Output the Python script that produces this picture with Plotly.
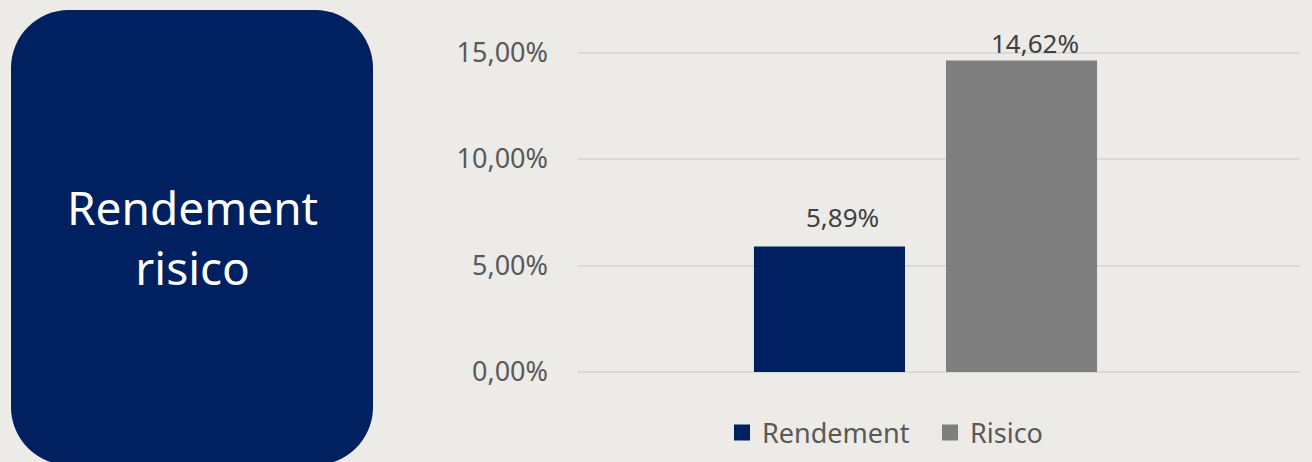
import plotly.graph_objects as go

# ---------------- data ----------------
categories = ["Rendement", "Risico"]
values = [0.0589, 0.1462]
colors = ["#00205F", "#7F7F7F"]
tick_values = [0.0, 0.05, 0.10, 0.15]
box_lines = ["Rendement", "risico"]

# ---------------- layout geometry ----------------
W, H = 1312, 462
PL, PR, PT, PB = 578, 1300, 50, 374   # plot area in px
ZERO_PX = 372                          # pixel row of the 0 % line
PX_PER_UNIT = 2130.0                   # pixels per 100 %
Y_MIN = -(PB - ZERO_PX) / PX_PER_UNIT
Y_MAX = (ZERO_PX - PT) / PX_PER_UNIT
BARGAP = 0.468
BARGROUPGAP = 0.2135
X_OFF = 0.0187

BG = "#EDEBE8"
FONT = "Noto Sans"


def px(x):
    return (x - PL) / (PR - PL)


def py(y):
    return (PB - y) / (PB - PT)


def rounded_rect_path(x0, y0, x1, y1, r):
    k = 0.5523 * r

    def P(x, y):
        return f"{px(x):.5f},{py(y):.5f}"
    d = f"M{P(x0 + r, y0)} L{P(x1 - r, y0)} "
    d += f"C{P(x1 - r + k, y0)} {P(x1, y0 + r - k)} {P(x1, y0 + r)} "
    d += f"L{P(x1, y1 - r)} "
    d += f"C{P(x1, y1 - r + k)} {P(x1 - r + k, y1)} {P(x1 - r, y1)} "
    d += f"L{P(x0 + r, y1)} "
    d += f"C{P(x0 + r - k, y1)} {P(x0, y1 - r + k)} {P(x0, y1 - r)} "
    d += f"L{P(x0, y0 + r)} "
    d += f"C{P(x0, y0 + r - k)} {P(x0 + r - k, y0)} {P(x0 + r, y0)} Z"
    return d


fig = go.Figure()
for name, v, c in zip(categories, values, colors):
    fig.add_trace(go.Bar(x=[""], y=[v], name=name, marker_color=c,
                         marker_line_width=0, showlegend=False))
for name, c in zip(categories, colors):
    fig.add_trace(go.Scatter(x=[None], y=[None], mode="markers", name=name,
                             marker=dict(symbol="square", size=18, color=c)))

# data labels
n = len(values)
slot_px = (PR - PL) * (1 - BARGAP) / n
annotations = []
for i, v in enumerate(values):
    top_px = ZERO_PX - v * PX_PER_UNIT
    gap = min(19, top_px - 54)
    annotations.append(dict(
        x="", y=v, xref="x", yref="y", text=f"{v:.2%}".replace(".", ","),
        showarrow=False, yanchor="bottom", xanchor="center",
        xshift=(i - (n - 1) / 2) * slot_px, yshift=gap - 9,
        font=dict(family=FONT, size=26, color="#404040")))

# box title
annotations.append(dict(
    x=px(192), y=py(237), xref="paper", yref="paper",
    text="<br>".join(box_lines), showarrow=False,
    xanchor="center", yanchor="middle", align="center",
    font=dict(family=FONT, size=46, color="#FFFFFF")))

fig.update_layout(
    width=W, height=H,
    margin=dict(l=PL, r=W - PR, t=PT, b=H - PB, pad=0, autoexpand=False),
    paper_bgcolor=BG, plot_bgcolor=BG,
    separators=",.",
    barmode="group", bargap=BARGAP, bargroupgap=BARGROUPGAP,
    font=dict(family=FONT, size=27, color="#595959"),
    xaxis=dict(type="category", range=[-0.5 + X_OFF, 0.5 + X_OFF],
               showticklabels=False, showgrid=False, zeroline=False,
               showline=False, ticks=""),
    yaxis=dict(range=[Y_MIN, Y_MAX], tickvals=tick_values, tickformat=".2%",
               showgrid=True, gridcolor="#D9D9D9", gridwidth=1.6,
               zeroline=False, showline=False, ticks="",
               ticklabelstandoff=29,
               tickfont=dict(family=FONT, size=27, color="#595959")),
    legend=dict(orientation="h", x=px(722), y=py(433), xanchor="left",
                yanchor="middle", font=dict(family=FONT, size=27, color="#595959"),
                bgcolor="rgba(0,0,0,0)", itemclick=False, entrywidth=163),
    shapes=[dict(type="path", xref="paper", yref="paper",
                 path=rounded_rect_path(11, 10, 373, 465, 58),
                 fillcolor="#00205F", line=dict(width=0), layer="below")],
    annotations=annotations,
    showlegend=True,
)

fig.write_html("out.html", config={"displayModeBar": False},
               post_script="document.body.style.margin='0';document.body.style.overflow='hidden';")
